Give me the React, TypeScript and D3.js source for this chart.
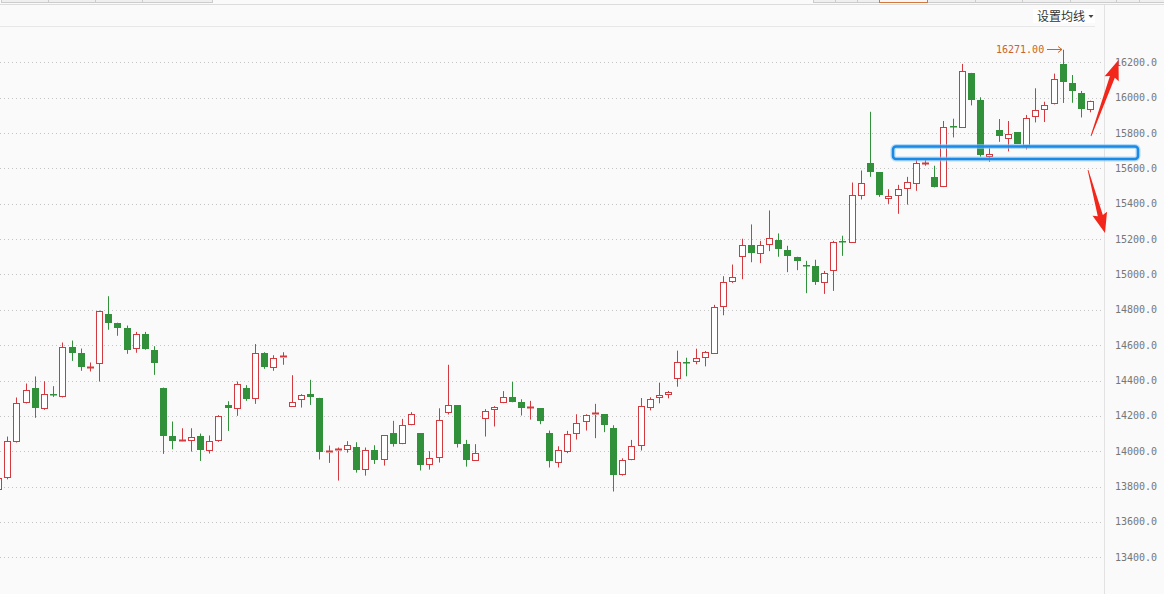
import React, { useEffect } from "react";
import * as d3 from "d3";

// ---- data ----
const opens = [13780,13847,14053,14274,14357,14240,14322,14309,14587,14555,14472,14491,14775,14725,14696,14581,14662,14572,14357,14085,14053,14060,14085,14004,14057,14260,14241,14357,14294,14555,14472,14530,14253,14289,14323,14302,13989,14000,14009,14023,13892,14006,13949,14102,14040,14147,14102,13921,13960,14215,14260,14040,13947,14181,14232,14272,14306,14277,14245,14243,14104,13936,13994,14096,14164,14204,14209,14130,13868,13949,14027,14242,14301,14318,14409,14507,14505,14529,14550,14816,14958,15100,15168,15117,15168,15196,15139,15100,15051,15049,14952,15017,15190,15179,15443,15628,15577,15429,15446,15486,15509,15630,15550,15494,15841,15830,16140,15987,15667,15817,15768,15805,15726,15888,15928,15962,16191,16083,16026,15928];
const highs = [13855,14083,14304,14383,14423,14396,14368,14615,14626,14581,14502,14795,14877,14727,14711,14675,14675,14594,14360,14168,14130,14130,14100,14089,14204,14283,14394,14374,14606,14560,14543,14560,14430,14323,14404,14302,14032,14021,14057,14051,14021,14034,14091,14172,14183,14221,14102,14000,14243,14489,14260,14064,14040,14238,14255,14340,14392,14294,14285,14243,14117,14028,14115,14209,14209,14268,14209,14147,13960,14064,14301,14305,14388,14341,14569,14529,14580,14567,14828,14990,15056,15202,15283,15190,15362,15232,15162,15100,15077,15083,15020,15190,15219,15520,15588,15920,15577,15482,15507,15552,15647,15652,15615,15868,15881,16191,16140,16002,15715,15879,15868,15805,15902,16053,15977,16136,16271,16128,16038,15983];
const lows = [13770,13841,14049,14270,14189,14234,14307,14304,14511,14455,14451,14394,14687,14653,14551,14557,14574,14432,13985,14011,14053,13998,13945,13987,14053,14115,14200,14285,14268,14466,14455,14489,14253,14247,14262,13953,13934,13834,13992,13879,13862,13928,13919,14026,14040,14147,13891,13896,13936,14208,14021,13913,13947,14083,14140,14272,14277,14202,14179,14153,13908,13908,13989,14066,14117,14074,14108,13772,13862,13949,14004,14231,14271,14299,14365,14424,14492,14480,14550,14769,14952,14973,15069,15064,15132,15100,15013,15024,14894,14941,14890,14907,15105,15179,15424,15552,15439,15399,15343,15395,15473,15615,15492,15494,15775,15830,15956,15666,15637,15750,15696,15739,15707,15860,15862,15962,15970,15971,15888,15917];
const closes = [13850,14058,14275,14349,14245,14321,14320,14592,14557,14477,14475,14791,14726,14698,14574,14662,14577,14500,14087,14058,14066,14083,14007,14060,14198,14245,14383,14296,14558,14477,14530,14541,14281,14317,14304,13998,14002,14013,14038,13896,14006,13953,14091,14043,14147,14209,13924,13960,14175,14260,14043,13953,13989,14226,14249,14306,14281,14247,14249,14170,13947,14006,14096,14158,14204,14215,14151,13868,13949,14032,14255,14297,14318,14335,14505,14503,14526,14561,14816,14958,14986,15168,15122,15168,15207,15143,15105,15077,15047,14958,15009,15185,15187,15448,15520,15581,15448,15446,15484,15524,15632,15633,15492,15836,15837,16149,15988,15677,15681,15785,15792,15739,15883,15928,15956,16104,16087,16036,15937,15983];
const yTicks = [16200,16000,15800,15600,15400,15200,15000,14800,14600,14400,14200,14000,13800,13600,13400];
const maxLabel = "16271.00";
const maLabel = "设置均线";

const W = 1164, H = 594;
const RED = "#d23a3f";
const GREEN = "#31903a";

export default function App() {
  useEffect(() => { document.body.style.margin = "0"; }, []);
  const n = opens.length;
  const x = d3.scaleLinear().domain([0, n - 1]).range([-1.9, 1090.3]);
  const y = d3.scaleLinear().domain([13400, 16200]).range([557.3, 62.3]);

  const candles = d3.range(n).map((i) => {
    const o = opens[i], c = closes[i], h = highs[i], l = lows[i];
    const cx = Math.round(x(i));
    const up = c >= o;
    const top = y(Math.max(o, c)), bot = y(Math.min(o, c));
    const yt = Math.round(top), yb = Math.max(Math.round(bot), yt + 1);
    const wx = cx + 0.5;
    if (up) {
      return (
        <g key={i}>
          <line x1={wx} x2={wx} y1={y(h)} y2={yt} stroke={RED} strokeWidth={1} />
          <line x1={wx} x2={wx} y1={yb} y2={y(l)} stroke={RED} strokeWidth={1} />
          {yb - yt <= 2 ? (
            <rect x={cx - 3} y={yt - 0.5} width={7} height={2} fill={RED} />
          ) : (
            <rect x={cx - 2.5} y={yt + 0.5} width={6} height={yb - yt - 1} fill="#ffffff" stroke={RED} strokeWidth={1} />
          )}
        </g>
      );
    }
    return (
      <g key={i}>
        <line x1={wx} x2={wx} y1={y(h)} y2={y(l)} stroke={GREEN} strokeWidth={1} />
        <rect x={cx - 3} y={yt} width={7} height={Math.max(yb - yt, 1.5)} fill={GREEN} />
      </g>
    );
  });

  // arrow helper (annotation shapes)
  const arrow = (x0: number, y0: number, x1: number, y1: number) => {
    const dx = x1 - x0, dy = y1 - y0;
    const len = Math.hypot(dx, dy);
    const ux = dx / len, uy = dy / len;
    const px = -uy, py = ux;
    const headLen = 18, headW = 7.5, w0 = 0.4, w1 = 2.6;
    const bx = x1 - ux * headLen, by = y1 - uy * headLen;
    const pts = [
      [x0 + px * w0, y0 + py * w0],
      [bx + px * w1, by + py * w1],
      [bx + px * headW - ux * 2, by + py * headW - uy * 2],
      [x1, y1],
      [bx - px * headW - ux * 2, by - py * headW - uy * 2],
      [bx - px * w1, by - py * w1],
      [x0 - px * w0, y0 - py * w0],
    ];
    return pts.map((p) => p.join(",")).join(" ");
  };

  const leftTabs = [1.5, 48.5, 95.5, 142.5, 212.5];
  const rightTabs = [813.5, 835.5, 857.5, 879.5, 927.5, 975.5, 1022.5, 1070.5, 1116.5, 1139.5, 1170];

  const hiIdx = highs.indexOf(d3.max(highs) as number);

  return (
    <svg width={W} height={H} style={{ position: "absolute", left: 0, top: 0, display: "block" }}>
      <rect x={0} y={0} width={W} height={H} fill="#fafafa" />
      {/* top tabs */}
      <rect x={leftTabs[0]} y={-2} width={leftTabs[leftTabs.length - 1] - leftTabs[0]} height={4.5} fill="#efefef" stroke="#cccccc" />
      {leftTabs.slice(1, -1).map((t) => (
        <line key={t} x1={t} x2={t} y1={0} y2={2.5} stroke="#cccccc" />
      ))}
      <rect x={rightTabs[0]} y={-2} width={W - rightTabs[0] + 4} height={4.5} fill="#efefef" stroke="#cccccc" />
      {rightTabs.slice(1, -1).map((t) => (
        <line key={t} x1={t} x2={t} y1={0} y2={2.5} stroke="#cccccc" />
      ))}
      <rect x={879.5} y={-2} width={48} height={4.5} fill="#f6f6f6" stroke="#d2773e" />
      <line x1={0} x2={W} y1={4.5} y2={4.5} stroke="#dcdcdc" />
      <line x1={0} x2={1095} y1={26.5} y2={26.5} stroke="#e8e8e8" />
      <line x1={1104.5} x2={1104.5} y1={5} y2={H} stroke="#e2e2e2" />

      {/* MA setting */}
      <rect x={1033} y={9} width={62} height={14} fill="#ffffff" />
      <text x={1037} y={20.5} fontFamily="'Noto Sans CJK SC', sans-serif" fontSize={12} fill="#333">{maLabel}</text>
      <path d="M1088.5,15 L1093.5,15 L1091,18 Z" fill="#444" />

      {/* grid + labels */}
      {yTicks.map((t) => (
        <g key={t}>
          <line x1={0} x2={1101} y1={Math.round(y(t)) + 0.5} y2={Math.round(y(t)) + 0.5} stroke="#c4c4c4" strokeDasharray="1,3" />
          <text x={1115} y={y(t)} dy="0.35em" fontFamily="'DejaVu Sans Mono', monospace" fontSize={10} fill="#777">
            {d3.format(".1f")(t)}
          </text>
        </g>
      ))}

      {/* candles */}
      {candles}

      {/* max annotation */}
      <text x={996} y={53} fontFamily="'DejaVu Sans Mono', monospace" fontSize={10} fill="#c8642a">{maxLabel}</text>
      <g stroke="#c8642a" strokeWidth={1} fill="none">
        <line x1={1047} x2={Math.round(x(hiIdx)) - 1} y1={49.5} y2={49.5} />
        <path d={`M${Math.round(x(hiIdx)) - 5},46.5 L${Math.round(x(hiIdx)) - 1},49.5 L${Math.round(x(hiIdx)) - 5},52.5`} />
      </g>

      {/* blue box */}
      <rect x={893} y={146.5} width={245} height={12.5} rx={3} fill="none" stroke="#8cc8f5" strokeWidth={5} opacity={0.6} />
      <rect x={893} y={146.5} width={245} height={12.5} rx={3} fill="none" stroke="#1a8ae6" strokeWidth={2.5} />

      {/* red arrows */}
      <polygon points={arrow(1091, 136, 1118.5, 60)} fill="#f2261a" />
      <polygon points={arrow(1088, 170, 1105, 233)} fill="#f2261a" />
    </svg>
  );
}
